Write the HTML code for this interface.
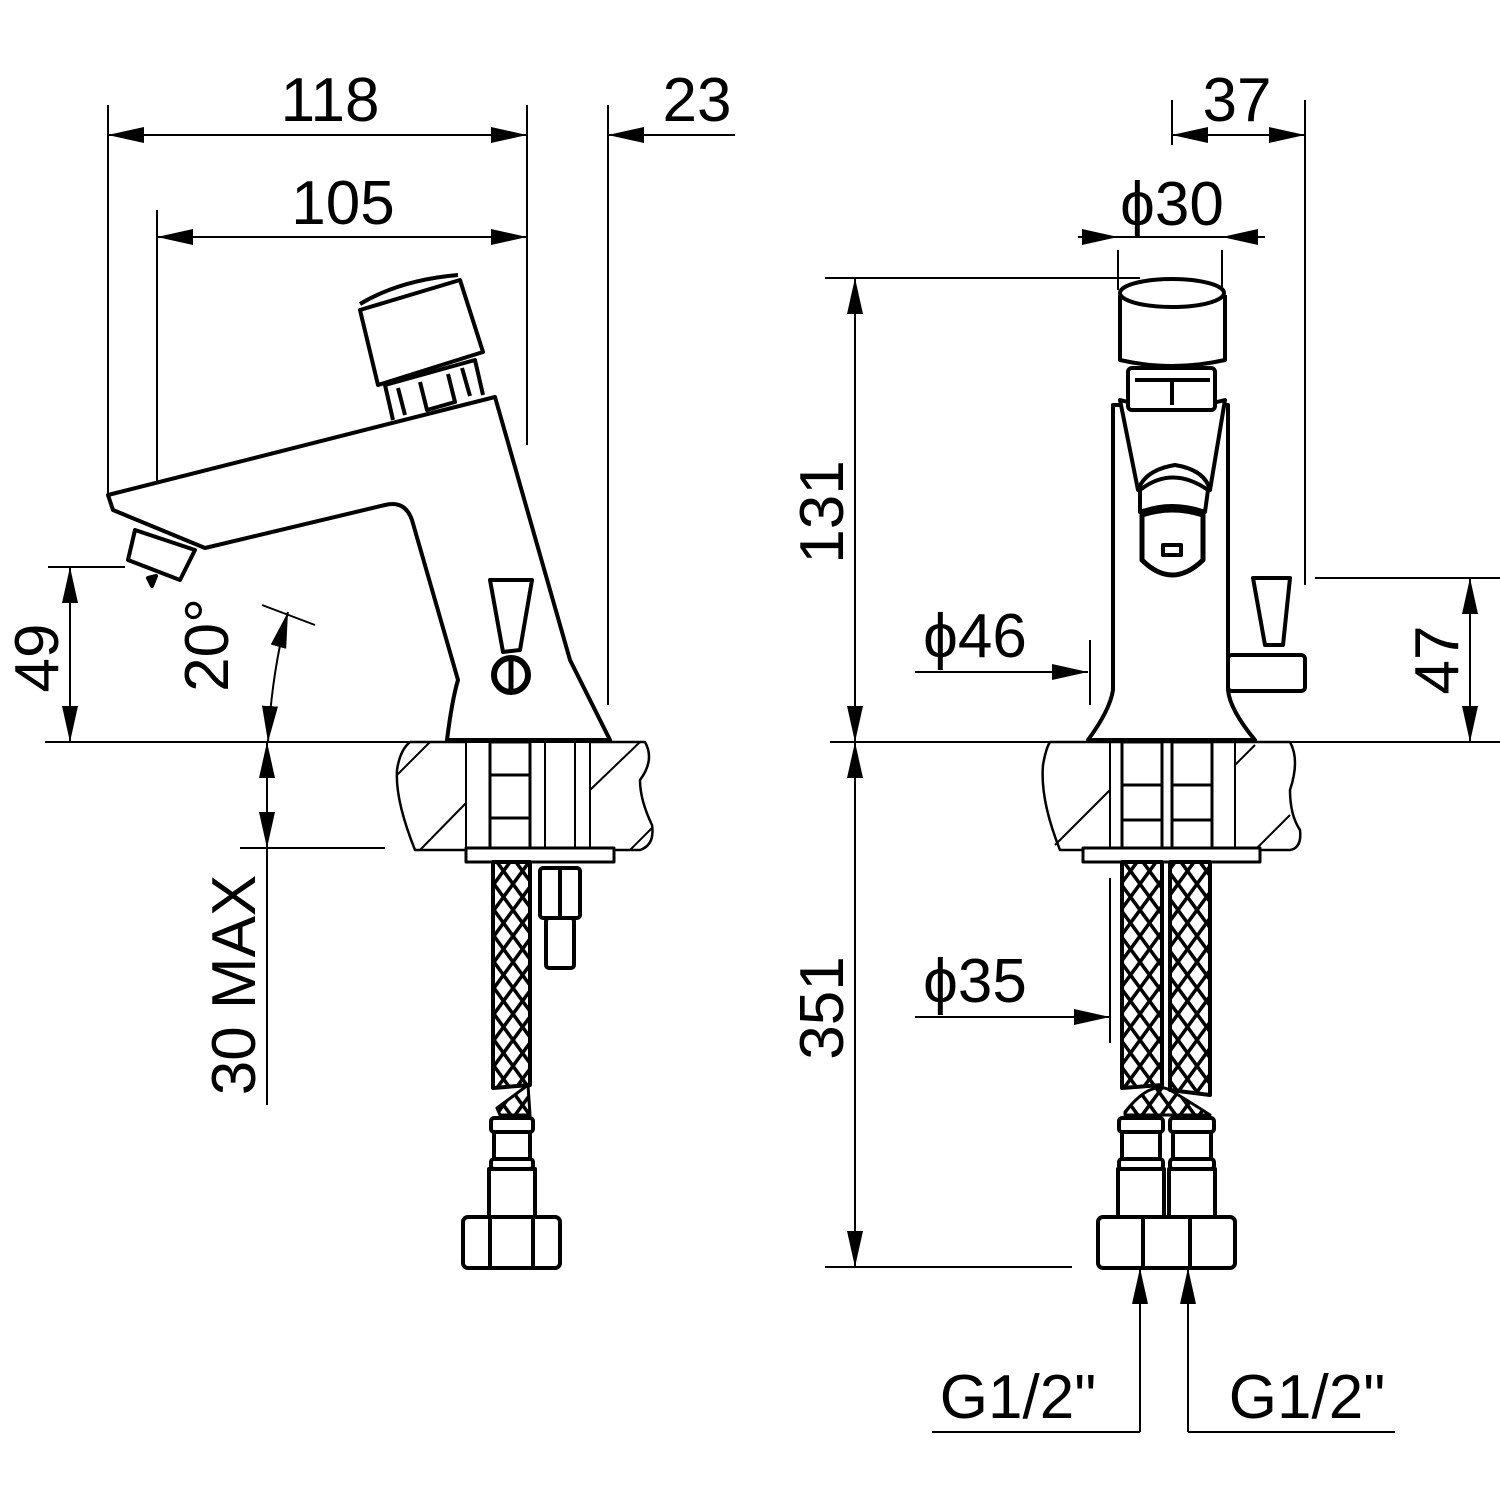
<!DOCTYPE html>
<html><head><meta charset="utf-8"><style>
html,body{margin:0;padding:0;background:#fff}
svg{display:block}
text{font-family:"Liberation Sans",sans-serif;font-size:62px;fill:#000}
</style></head><body>
<svg width="1500" height="1500" viewBox="0 0 1500 1500" xmlns="http://www.w3.org/2000/svg">
<defs>
<marker id="a" markerUnits="userSpaceOnUse" markerWidth="40" markerHeight="20" refX="36" refY="8" orient="auto-start-reverse"><path d="M0,0 L36,8 L0,16 Z" fill="#000"/></marker>
<pattern id="x" width="19" height="26" patternUnits="userSpaceOnUse"><path d="M0,0 L19,26 M19,0 L0,26" stroke="#000" stroke-width="3.5" fill="none"/></pattern>
</defs>
<g stroke="#000" stroke-width="2" fill="none">
<line x1="108" y1="105" x2="108" y2="495"/>
<line x1="157" y1="210" x2="157" y2="483"/>
<line x1="527" y1="105" x2="527" y2="445"/>
<line x1="608" y1="105" x2="608" y2="705"/>
<line x1="108" y1="135" x2="527" y2="135" marker-start="url(#a)" marker-end="url(#a)"/>
<line x1="735" y1="135" x2="608" y2="135" marker-end="url(#a)"/>
<line x1="157" y1="237" x2="527" y2="237" marker-start="url(#a)" marker-end="url(#a)"/>
<line x1="45" y1="742" x2="445" y2="742"/>
<line x1="48" y1="567" x2="125" y2="567"/>
<line x1="70" y1="567" x2="70" y2="742" marker-start="url(#a)" marker-end="url(#a)"/>
<line x1="262" y1="605" x2="315" y2="625"/>
<path d="M268,742 Q272,670 288,612" marker-start="url(#a)" marker-end="url(#a)"/>
<line x1="240" y1="848" x2="385" y2="848"/>
<line x1="267" y1="742" x2="267" y2="848" marker-start="url(#a)" marker-end="url(#a)"/>
<line x1="267" y1="848" x2="267" y2="1105"/>
<line x1="1172" y1="100" x2="1172" y2="145"/>
<line x1="1305" y1="100" x2="1305" y2="585"/>
<line x1="1172" y1="135" x2="1305" y2="135" marker-start="url(#a)" marker-end="url(#a)"/>
<line x1="1118" y1="250" x2="1118" y2="290"/>
<line x1="1222" y1="250" x2="1222" y2="290"/>
<line x1="1078" y1="237" x2="1118" y2="237" marker-end="url(#a)"/>
<line x1="1265" y1="237" x2="1222" y2="237" marker-end="url(#a)"/>
<line x1="1118" y1="237" x2="1222" y2="237"/>
<line x1="825" y1="278" x2="1140" y2="278"/>
<line x1="855" y1="278" x2="855" y2="742" marker-start="url(#a)" marker-end="url(#a)"/>
<line x1="830" y1="742" x2="1090" y2="742"/>
<line x1="1255" y1="742" x2="1500" y2="742"/>
<line x1="855" y1="742" x2="855" y2="1267" marker-start="url(#a)" marker-end="url(#a)"/>
<line x1="825" y1="1267" x2="1072" y2="1267"/>
<line x1="1315" y1="578" x2="1500" y2="578"/>
<line x1="1470" y1="578" x2="1470" y2="742" marker-start="url(#a)" marker-end="url(#a)"/>
<line x1="915" y1="672" x2="1088" y2="672" marker-end="url(#a)"/>
<line x1="1090" y1="640" x2="1090" y2="705"/>
<line x1="915" y1="1017" x2="1110" y2="1017" marker-end="url(#a)"/>
<line x1="1110" y1="878" x2="1110" y2="1043"/>
<line x1="1140" y1="1432" x2="1140" y2="1268" marker-end="url(#a)"/>
<line x1="932" y1="1432" x2="1140" y2="1432"/>
<line x1="1188" y1="1432" x2="1188" y2="1268" marker-end="url(#a)"/>
<line x1="1188" y1="1432" x2="1395" y2="1432"/>
</g>

<g stroke="#000" stroke-width="4" fill="#fff" stroke-linejoin="round">
<path d="M410,742 L645,742 Q655,760 640,780 Q640,800 652,825 Q655,845 640,850 L415,850 Q395,800 397,770 Q400,750 410,742 Z" stroke-width="2.5"/>
<g stroke-width="2"><line x1="397" y1="775" x2="430" y2="742"/><line x1="420" y1="850" x2="466" y2="803"/><line x1="590" y1="790" x2="640" y2="742"/><line x1="630" y1="850" x2="652" y2="828"/></g>
<rect x="466" y="742" width="124" height="108" stroke-width="2"/>
<line x1="545" y1="742" x2="545" y2="850" stroke-width="2"/>
<line x1="575" y1="742" x2="575" y2="850" stroke-width="2"/>
<rect x="490" y="742" width="40" height="108" stroke-width="3"/>
<line x1="490" y1="775" x2="530" y2="775" stroke-width="3"/>
<line x1="490" y1="818" x2="530" y2="818" stroke-width="3"/>
<rect x="466" y="848" width="148" height="14" stroke-width="3"/>
<path d="M493,862 L530,862 L530,1085 L493,1088 Z" fill="url(#x)" stroke-width="4"/>
<path d="M497,1108 L528,1085 L530,1115 L500,1115 Z" fill="url(#x)" stroke-width="3"/>
<rect x="491" y="1118" width="42" height="14" rx="3"/>
<rect x="494" y="1132" width="36" height="27"/>
<rect x="491" y="1159" width="42" height="10" rx="3"/>
<rect x="489" y="1169" width="46" height="48"/>
<rect x="463" y="1217" width="97" height="51" rx="5"/>
<line x1="490" y1="1217" x2="490" y2="1268"/>
<line x1="533" y1="1217" x2="533" y2="1268"/>
<rect x="540" y="868" width="40" height="50" rx="3"/>
<line x1="560" y1="868" x2="560" y2="918"/>
<rect x="546" y="918" width="28" height="50" rx="3"/>
<path d="M108,495 L495,397 L570,660 L610,740 L447,740 Q452,700 458,680 L412,520 Q405,500 385,505 L205,548 L113,510 Z"/>
<path d="M135,530 L195,550 L180,580 L128,560 Z"/>
<path d="M148,578 L156,576 L152,586 Z" fill="#000"/>
<path d="M393,420 L385,385 L475,360 L483,395"/>
<path d="M378,385 L360,310 L460,280 L483,352 Z"/>
<path d="M360,304 Q400,280 458,275" fill="none"/>
<path d="M398,388 L405,415 M420,382 L427,410 L455,402 L448,374 M462,368 L470,396" fill="none"/>
<path d="M490,580 L532,580 L520,650 L503,652 Z"/>
<circle cx="511" cy="675" r="17" stroke-width="6"/>
<line x1="511" y1="660" x2="511" y2="690" stroke-width="5"/>
</g>

<g stroke="#000" stroke-width="4" fill="#fff" stroke-linejoin="round">
<path d="M1050,742 L1290,742 Q1300,760 1290,790 Q1290,815 1300,830 Q1302,848 1290,850 L1060,850 Q1040,800 1043,765 Q1046,748 1050,742 Z" stroke-width="2.5"/>
<g stroke-width="2"><line x1="1055" y1="845" x2="1110" y2="790"/><line x1="1235" y1="765" x2="1255" y2="745"/><line x1="1255" y1="850" x2="1290" y2="815"/></g>
<line x1="1110" y1="742" x2="1110" y2="850" stroke-width="2"/>
<line x1="1235" y1="742" x2="1235" y2="850" stroke-width="2"/>
<rect x="1122" y="742" width="40" height="108" stroke-width="3"/>
<rect x="1172" y="742" width="40" height="108" stroke-width="3"/>
<line x1="1122" y1="785" x2="1162" y2="785" stroke-width="3"/><line x1="1172" y1="785" x2="1212" y2="785" stroke-width="3"/>
<line x1="1122" y1="820" x2="1162" y2="820" stroke-width="3"/><line x1="1172" y1="820" x2="1212" y2="820" stroke-width="3"/>
<rect x="1083" y="848" width="177" height="14" stroke-width="3"/>
<path d="M1122,862 L1162,862 L1162,1085 L1122,1088 Z" fill="url(#x)"/>
<path d="M1170,862 L1210,862 L1210,1095 L1170,1090 Z" fill="url(#x)"/>
<path d="M1125,1112 Q1150,1080 1170,1090 Q1195,1105 1210,1115 L1125,1115 Z" fill="url(#x)" stroke-width="3"/>
<rect x="1119" y="1118" width="44" height="14" rx="3"/><rect x="1170" y="1118" width="44" height="14" rx="3"/>
<rect x="1122" y="1132" width="38" height="27"/><rect x="1173" y="1132" width="38" height="27"/>
<rect x="1119" y="1159" width="44" height="10" rx="3"/><rect x="1170" y="1159" width="44" height="10" rx="3"/>
<rect x="1118" y="1169" width="46" height="48"/><rect x="1169" y="1169" width="46" height="48"/>
<rect x="1098" y="1217" width="137" height="51" rx="5"/>
<line x1="1143" y1="1217" x2="1143" y2="1268"/><line x1="1190" y1="1217" x2="1190" y2="1268"/>
<path d="M1113,405 L1228,405 L1228,690 Q1230,710 1255,740 L1088,740 Q1110,710 1113,690 Z"/>
<path d="M1120,400 Q1172,415 1225,400 L1210,490 Q1205,470 1175,465 Q1145,470 1138,490 Z"/>
<path d="M1140,490 Q1172,465 1208,490 L1205,512 Q1172,500 1140,512 Z"/>
<path d="M1142,515 Q1172,505 1203,515 L1203,560 Q1172,590 1142,560 Z" stroke-width="5"/>
<rect x="1163" y="545" width="18" height="10"/>
<rect x="1128" y="368" width="87" height="42" rx="4"/>
<line x1="1172" y1="380" x2="1172" y2="405"/>
<line x1="1135" y1="380" x2="1210" y2="380"/>
<path d="M1120,295 L1120,360 Q1172,372 1225,360 L1225,295"/>
<ellipse cx="1172" cy="293" rx="52" ry="14"/>
<path d="M1253,578 L1290,578 L1283,645 L1265,645 Z"/>
<rect x="1228" y="655" width="77" height="36" rx="4"/>
</g>

<text x="330" y="121" text-anchor="middle">118</text>
<text x="697" y="121" text-anchor="middle">23</text>
<text x="343" y="224" text-anchor="middle">105</text>
<text x="1237" y="121" text-anchor="middle">37</text>
<text x="1172" y="225" text-anchor="middle">ϕ30</text>
<text x="975" y="657" text-anchor="middle">ϕ46</text>
<text x="975" y="1002" text-anchor="middle">ϕ35</text>
<text x="1018" y="1418" text-anchor="middle">G1/2"</text>
<text x="1307" y="1418" text-anchor="middle">G1/2"</text>
<text transform="translate(58,658) rotate(-90)" text-anchor="middle">49</text>
<text transform="translate(228,645) rotate(-90)" text-anchor="middle">20°</text>
<text transform="translate(255,985) rotate(-90)" text-anchor="middle">30 MAX</text>
<text transform="translate(843,512) rotate(-90)" text-anchor="middle">131</text>
<text transform="translate(843,1008) rotate(-90)" text-anchor="middle">351</text>
<text transform="translate(1458,660) rotate(-90)" text-anchor="middle">47</text>
</svg>
</body></html>
